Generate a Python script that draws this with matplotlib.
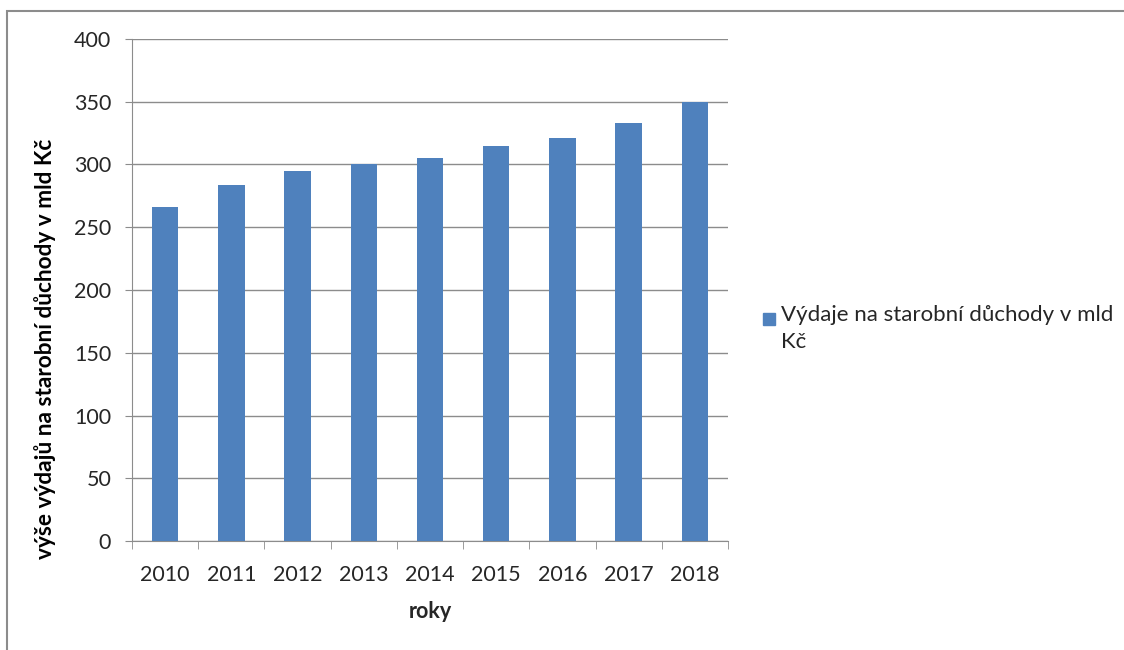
import matplotlib.pyplot as plt
from matplotlib.patches import Rectangle

# values (mld Kč)
years = ['2010', '2011', '2012', '2013', '2014', '2015', '2016', '2017', '2018']
spending = [266, 284, 295, 300, 305, 315, 321, 333, 350]
y_ticks = [0, 50, 100, 150, 200, 250, 300, 350, 400]
series_name = 'Výdaje na starobní důchody v mld\nKč'

bar_color = '#4F81BD'
grid_color = '#8C8C8C'
text_color = '#262626'

plt.rcParams['font.family'] = ['Lato', 'DejaVu Sans']

W, H = 1124, 650
fig = plt.figure(figsize=(W / 100, H / 100), dpi=100)
ax = fig.add_axes([132 / W, 1 - 541 / H, (728 - 132) / W, (541 - 39) / H])

# outer chart frame
fig.patches.append(Rectangle((7 / W, -0.1), 1.2, 1 - 11 / H + 0.1,
                             transform=fig.transFigure, fill=False,
                             edgecolor=grid_color, linewidth=1.5))

x = list(range(len(years)))
ax.bar(x, spending, width=0.4, color=bar_color, zorder=3)

ax.set_xlim(-0.5, len(years) - 0.5)
ax.set_ylim(0, 400)
ax.set_yticks(y_ticks)
ax.yaxis.grid(True, color=grid_color, linewidth=1, zorder=0)

ax.set_xticks(x)
ax.set_xticklabels(years)
ax.set_xticks([i - 0.5 for i in range(len(years) + 1)], minor=True)
ax.tick_params(axis='x', which='major', length=0, pad=17, labelsize=15.5, labelcolor=text_color)
ax.tick_params(axis='x', which='minor', length=6, color=grid_color, direction='out')
ax.tick_params(axis='y', length=5, color=grid_color, labelsize=15.5, labelcolor=text_color, pad=10)

for side in ['top', 'right']:
    ax.spines[side].set_visible(False)
ax.spines['left'].set_color(grid_color)
ax.spines['bottom'].set_color(grid_color)

ax.set_xlabel('roky', fontsize=15.5, fontweight='bold', color=text_color, labelpad=12)
ax.set_ylabel('výše výdajů na starobní důchody v mld Kč', fontsize=16.3,
              fontweight='bold', color='black', va='center')
ax.yaxis.set_label_coords(-0.146, 0.382)

# legend drawn by hand so the square sits by the first line
fig.patches.append(Rectangle((763 / W, 1 - 325 / H), 12 / W, 12 / H,
                             transform=fig.transFigure, color=bar_color))
fig.text(781 / W, 1 - 305 / H, series_name, fontsize=16, color=text_color,
         va='top', ha='left', linespacing=1.45)

fig.savefig('out.png', dpi=100)
